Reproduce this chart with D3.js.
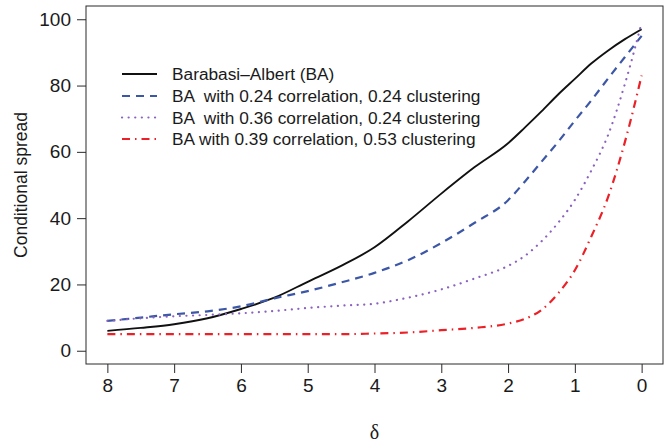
<!DOCTYPE html>
<html>
<head>
<meta charset="utf-8">
<script src="https://cdn.jsdelivr.net/npm/d3@7"></script>
<style>
  html, body { margin: 0; padding: 0; background: #fff; }
  svg { display: block; }
  text { font-family: "Liberation Sans", Arial, Helvetica, sans-serif; fill: #1a1a1a; }
</style>
</head>
<body>
<svg id="chart" width="669" height="442"></svg>
<script>
// delta values shared by all series (decreasing towards 0)
const delta = [8, 7.5, 7, 6.5, 6, 5.5, 5, 4.5, 4, 3.5, 3, 2.5, 2, 1.75, 1.5, 1.25, 1, 0.75, 0.5, 0.25, 0];

// conditional spread for each network model
const baSpread      = [6, 6.9, 8.0, 9.8, 12.6, 16, 20.8, 25.6, 31.2, 39, 47.4, 55.4, 62.6, 67.3, 72.2, 77.3, 82, 86.7, 90.6, 94, 97];
const baCorr24      = [9, 10, 11, 11.9, 13.4, 15.8, 18, 20.6, 23.5, 27.3, 32.5, 38.6, 45.4, 51, 57, 63, 69.4, 75.6, 82.2, 88.6, 95];
const baCorr36      = [9, 9.8, 10.4, 10.8, 11.3, 12, 12.9, 13.6, 14.2, 16, 18.5, 21.8, 25.6, 28.6, 33, 38.6, 45.5, 54.5, 65.2, 80.5, 99];
const baCorr39      = [5, 5, 5, 5, 5, 5, 5, 5, 5.2, 5.5, 6.2, 6.9, 8.2, 9.6, 12.3, 17.3, 24.3, 34.6, 46.5, 63, 83];

const seriesNames = [
  "Barabasi\u2013Albert (BA)",
  "BA  with 0.24 correlation, 0.24 clustering",
  "BA  with 0.36 correlation, 0.24 clustering",
  "BA with 0.39 correlation, 0.53 clustering"
];
const seriesValues = [baSpread, baCorr24, baCorr36, baCorr39];

const xTicks = [8, 7, 6, 5, 4, 3, 2, 1, 0];
const yTicks = [0, 20, 40, 60, 80, 100];

// line styles per series
const styles = [
  { color: "#111111", width: 1.9, dash: null,        cap: "butt" },
  { color: "#3d57a7", width: 2.2, dash: "8,6",       cap: "butt" },
  { color: "#8a63c0", width: 2.2, dash: "0.1,6.5",   cap: "round" },
  { color: "#ec2027", width: 2.2, dash: "8,5,1.5,5", cap: "butt" }
];

const svg = d3.select("#chart");
const box = { left: 86, right: 663, top: 6, bottom: 364 };

const x = d3.scaleLinear().domain([8.32, -0.32]).range([box.left, box.right]);
const y = d3.scaleLinear().domain([-4, 104]).range([box.bottom, box.top]);

// plot frame
svg.append("rect")
  .attr("x", box.left).attr("y", box.top)
  .attr("width", box.right - box.left).attr("height", box.bottom - box.top)
  .attr("fill", "none").attr("stroke", "#2a2a2a").attr("stroke-width", 1);

const tickFont = "19px";

// bottom axis
const xAxis = d3.axisBottom(x).tickValues(xTicks).tickSize(9).tickPadding(6).tickFormat(d3.format("d"));
const gx = svg.append("g").attr("transform", `translate(0,${box.bottom})`).call(xAxis);
gx.select(".domain").remove();
gx.selectAll(".tick line").attr("stroke", "#2a2a2a");
gx.selectAll(".tick text").style("font-size", tickFont).attr("fill", "#1a1a1a")
  .style("font-family", "'Liberation Sans', Arial, sans-serif");

// left axis
const yAxis = d3.axisLeft(y).tickValues(yTicks).tickSize(9).tickPadding(6).tickFormat(d3.format("d"));
const gy = svg.append("g").attr("transform", `translate(${box.left},0)`).call(yAxis);
gy.select(".domain").remove();
gy.selectAll(".tick line").attr("stroke", "#2a2a2a");
gy.selectAll(".tick text").style("font-size", tickFont).attr("fill", "#1a1a1a")
  .style("font-family", "'Liberation Sans', Arial, sans-serif");

// axis titles
svg.append("text")
  .attr("transform", `translate(21,${(box.top + box.bottom) / 2}) rotate(-90)`)
  .attr("text-anchor", "middle").attr("dy", "0.35em")
  .style("font-size", "17.5px")
  .text("Conditional spread");

svg.append("text")
  .attr("x", x(4)).attr("y", 432)
  .attr("text-anchor", "middle").attr("dy", "0.35em")
  .style("font-family", "'Liberation Serif', 'DejaVu Serif', serif")
  .style("font-size", "20px")
  .text("\u03B4");

// series lines
const line = d3.line()
  .x((d, i) => x(delta[i]))
  .y(d => y(d))
  .curve(d3.curveMonotoneX);

seriesValues.forEach((vals, k) => {
  const s = styles[k];
  svg.append("path")
    .datum(vals)
    .attr("d", line)
    .attr("fill", "none")
    .attr("stroke", s.color)
    .attr("stroke-width", s.width)
    .attr("stroke-linecap", s.cap)
    .attr("stroke-dasharray", s.dash);
});

// legend
const legend = svg.append("g");
const legendRowY = [74, 96, 117.5, 139];
seriesNames.forEach((name, k) => {
  const s = styles[k];
  const yy = legendRowY[k];
  legend.append("line")
    .attr("x1", 122).attr("x2", 157).attr("y1", yy).attr("y2", yy)
    .attr("stroke", s.color).attr("stroke-width", s.width)
    .attr("stroke-linecap", s.cap)
    .attr("stroke-dasharray", s.dash);
  legend.append("text")
    .attr("x", 172).attr("y", yy).attr("dy", "0.35em")
    .attr("xml:space", "preserve")
    .style("white-space", "pre")
    .style("font-size", "17.3px")
    .text(name);
});
</script>
</body>
</html>
